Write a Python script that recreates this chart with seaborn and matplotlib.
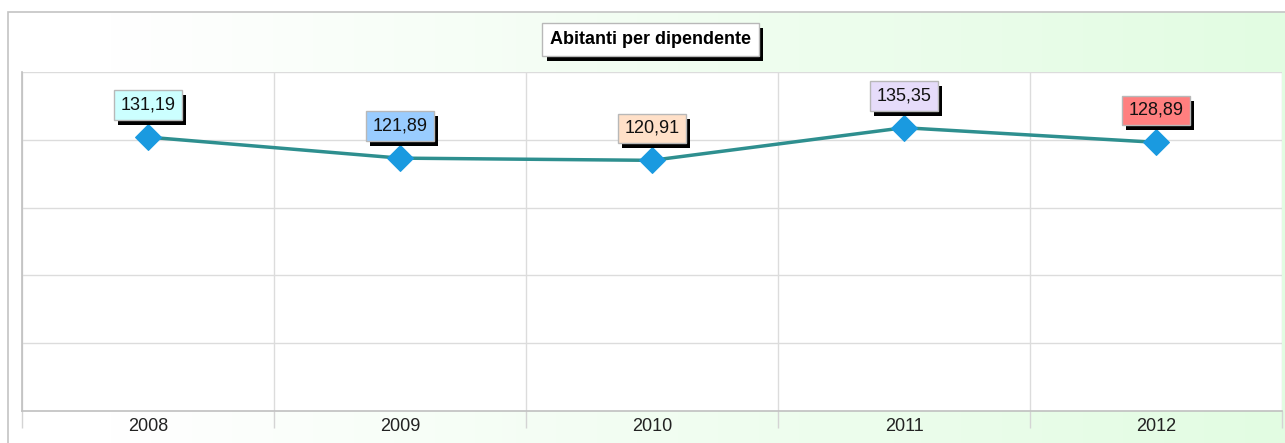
import numpy as np
import pandas as pd
import matplotlib
matplotlib.use('Agg')
import matplotlib.pyplot as plt
import matplotlib.patheffects as pe
from matplotlib.patches import Rectangle
import seaborn as sns

years = ['2008', '2009', '2010', '2011', '2012']
values = [131.19, 121.89, 120.91, 135.35, 128.89]
labels = ['131,19', '121,89', '120,91', '135,35', '128,89']
label_colors = ['#ccffff', '#99ccff', '#ffe0c8', '#e6dcfa', '#ff7f7f']
title = 'Abitanti per dipendente'

sns.set_theme(style='white')
plt.rcParams['font.family'] = ['Liberation Sans', 'DejaVu Sans']

W, H = 1285, 443
fig = plt.figure(figsize=(W / 100, H / 100), dpi=100)

# background gradient
bg = fig.add_axes([0, 0, 1, 1], zorder=-10)
xs = np.arange(W)
t = np.clip((xs - 110) / (W - 110), 0, 1)
end = np.array([226, 252, 226]) / 255.0
g = (1 - t)[None, :, None] * np.ones(3)[None, None, :] + t[None, :, None] * end[None, None, :]
g = np.repeat(g, H, axis=0)
g[:12, :, :] = 1
g[:, :8, :] = 1
bg.imshow(g, aspect='auto', extent=[0, 1, 0, 1], interpolation='nearest')
bg.set_xlim(0, 1)
bg.set_ylim(0, 1)
bg.axis('off')
fig.patches.append(Rectangle((8 / W, -0.1), 2, 1.1 - 12 / H, fill=False,
                             edgecolor='#c4c4c4', lw=1.2, transform=fig.transFigure))

# main axes
ax = fig.add_axes([22 / W, 1 - 411 / H, (1282 - 22) / W, (411 - 72) / H])
ax.set_facecolor('white')
df = pd.DataFrame({'year': years, 'value': values})
sns.lineplot(data=df, x='year', y='value', ax=ax, color='#2e8f8f', lw=2.5,
             marker='D', markersize=13, markerfacecolor='#1a9ae0',
             markeredgecolor='#1a9ae0', sort=False, zorder=3)

ax.set_xlim(-0.5, 4.5)
ax.set_ylim(10, 160)
ax.set_yticks([40, 70, 100, 130, 160])
ax.set_yticklabels([])
ax.tick_params(axis='y', length=0)
ax.set_xticks(range(len(years)))
ax.set_xticklabels(years)
ax.set_xticks(np.arange(-0.5, len(years), 1), minor=True)
ax.tick_params(axis='x', which='major', length=0, labelsize=13, labelcolor='#222222', pad=5)
ax.tick_params(axis='x', which='minor', length=12, color='#d4d4d4', width=1, bottom=True)
ax.grid(False)
ax.grid(True, which='minor', axis='x', color='#dcdcdc', lw=1)
ax.grid(True, which='major', axis='y', color='#dcdcdc', lw=1)
ax.set_xlabel('')
ax.set_ylabel('')
for s in ['top', 'right']:
    ax.spines[s].set_visible(False)
for s in ['left', 'bottom']:
    ax.spines[s].set_color('#c0c0c0')
    ax.spines[s].set_linewidth(1.2)

shadow = [pe.withSimplePatchShadow(offset=(3, -3.6), shadow_rgbFace='black', alpha=1.0)]

for i, (lab, v, c) in enumerate(zip(labels, values, label_colors)):
    a = ax.annotate(lab, (i, v), xytext=(0, 23), textcoords='offset points',
                    ha='center', va='center', fontsize=13, color='#111111',
                    bbox=dict(boxstyle='square,pad=0.35', fc=c, ec='#b8b8b8', lw=1), zorder=5)
    a.get_bbox_patch().set_path_effects(shadow)

# title box with shadow
tt = fig.text(650.5 / W, 1 - 39.5 / H, title, ha='center', va='center', fontsize=13,
              fontweight='bold', color='black',
              bbox=dict(boxstyle='square,pad=0.42', fc='white', ec='#b8b8b8', lw=1))
tt.get_bbox_patch().set_path_effects(
    [pe.withSimplePatchShadow(offset=(3, -3.6), shadow_rgbFace='black', alpha=1.0)])

fig.savefig('out.png', dpi=100)
